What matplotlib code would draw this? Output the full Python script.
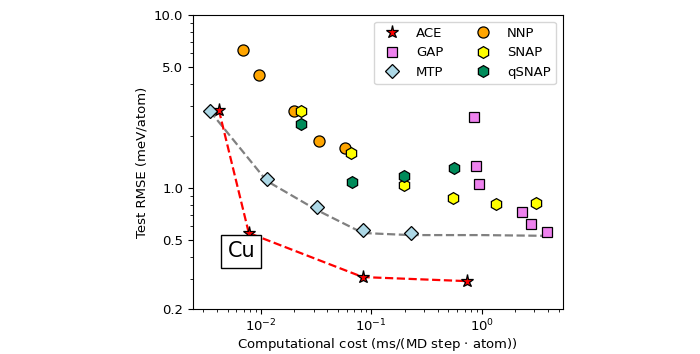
import matplotlib
matplotlib.use("Agg")
import matplotlib.pyplot as plt
from matplotlib.ticker import FixedLocator, FixedFormatter, NullFormatter, LogLocator

# Data (computational cost in ms/(MD step*atom), test RMSE in meV/atom)
ace_x = [0.00417, 0.00778, 0.0838, 0.731]
ace_y = [2.82, 0.55, 0.306, 0.29]

gap_x = [0.847, 0.883, 0.94, 2.30, 2.77, 3.87]
gap_y = [2.57, 1.34, 1.05, 0.726, 0.62, 0.557]

mtp_x = [0.00345, 0.0113, 0.0321, 0.0838, 0.227]
mtp_y = [2.79, 1.13, 0.776, 0.571, 0.55]

mtp_front_x = [0.00345, 0.0113, 0.0321, 0.0838, 0.227, 1.0, 3.56]
mtp_front_y = [2.79, 1.10, 0.747, 0.55, 0.535, 0.535, 0.53]

nnp_x = [0.00687, 0.0096, 0.0199, 0.0335, 0.0575]
nnp_y = [6.28, 4.5, 2.79, 1.87, 1.70]

snap_x = [0.023, 0.0652, 0.197, 0.547, 1.34, 3.08]
snap_y = [2.79, 1.59, 1.04, 0.875, 0.81, 0.82]

qsnap_x = [0.023, 0.0667, 0.197, 0.558]
qsnap_y = [2.34, 1.08, 1.17, 1.31]

FS = 9.5

fig = plt.figure(figsize=(7.0, 3.54), dpi=100)
ax = fig.add_axes([0.2757, 0.127, 0.528, 0.8306])

ax.plot(mtp_front_x, mtp_front_y, '--', color='gray', lw=1.6, zorder=1)
ax.plot(ace_x, ace_y, '--', color='red', lw=1.6, zorder=1)

mk = dict(markeredgecolor='black', markeredgewidth=0.9, linestyle='none', zorder=3)
ax.plot(ace_x, ace_y, marker='*', color='red', ms=9.5, label='ACE', **mk)
ax.plot(gap_x, gap_y, marker='s', color='violet', ms=7.5, label='GAP', **mk)
ax.plot(mtp_x, mtp_y, marker='D', color='lightblue', ms=7, label='MTP', **mk)
ax.plot(nnp_x, nnp_y, marker='o', color='orange', ms=8, label='NNP', **mk)
ax.plot(snap_x, snap_y, marker='h', color='yellow', ms=8.5, label='SNAP', **mk)
ax.plot(qsnap_x, qsnap_y, marker='h', color='#008b5a', ms=8.5, label='qSNAP', **mk)

ax.set_xscale('log')
ax.set_yscale('log')
ax.set_xlim(0.00243, 5.4)
ax.set_ylim(0.2, 10.0)

yt = [0.2, 0.5, 1.0, 5.0, 10.0]
ax.yaxis.set_major_locator(FixedLocator(yt))
ax.yaxis.set_major_formatter(FixedFormatter(['%.1f' % v for v in yt]))
ax.yaxis.set_minor_locator(LogLocator(base=10, subs=range(2, 10)))
ax.yaxis.set_minor_formatter(NullFormatter())
ax.xaxis.set_minor_locator(LogLocator(base=10, subs=range(2, 10)))
ax.xaxis.set_minor_formatter(NullFormatter())
ax.tick_params(labelsize=FS)
ax.tick_params(axis='x', pad=2.5)

ax.set_xlabel('Computational cost (ms/(MD step $\\cdot$ atom))', fontsize=FS, labelpad=1.5)
ax.set_ylabel('Test RMSE (meV/atom)', fontsize=FS)

ax.text(0.131, 0.196, 'Cu', transform=ax.transAxes, fontsize=15, ha='center', va='center',
        bbox=dict(facecolor='white', edgecolor='black', boxstyle='square,pad=0.3'), zorder=4)

ax.legend(loc='upper right', ncol=2, fontsize=FS)

fig.savefig('out.png', dpi=100)
